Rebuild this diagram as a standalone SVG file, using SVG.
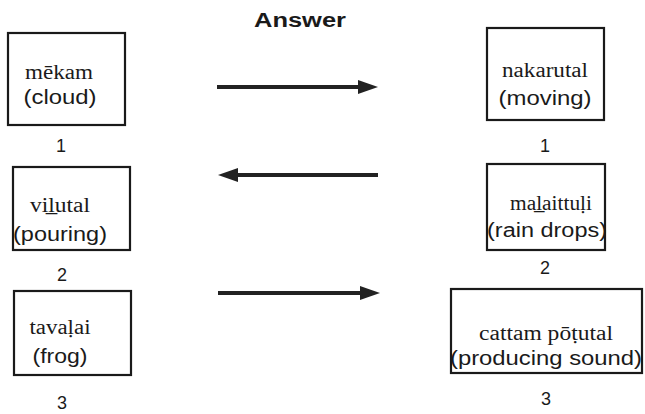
<svg xmlns="http://www.w3.org/2000/svg" width="645" height="414" viewBox="0 0 645 414">
  <style>
    .box { fill: #fff; stroke: #1a1a1a; stroke-width: 2.2; }
    .tm { font-family: "Liberation Serif", "Times New Roman", serif; font-size: 20px; fill: #1a1a1a; text-anchor: middle; }
    .en { font-family: "Liberation Sans", Arial, sans-serif; font-size: 20px; fill: #1a1a1a; text-anchor: middle; }
    .num { font-family: "Liberation Sans", Arial, sans-serif; font-size: 18px; fill: #1a1a1a; text-anchor: middle; }
    .title { font-family: "Liberation Sans", Arial, sans-serif; font-size: 20px; font-weight: bold; fill: #1a1a1a; text-anchor: middle; }
    .arrow { stroke: #222; stroke-width: 4; fill: none; }
  </style>
  <defs>
    <marker id="head" viewBox="0 0 20 14" refX="2" refY="7" markerWidth="20" markerHeight="14" markerUnits="userSpaceOnUse" orient="auto">
      <path d="M0,0 L20,7 L0,14 Z" fill="#222"/>
    </marker>
  </defs>
  <rect width="645" height="414" fill="#fff"/>

  <text class="title" x="300" y="27" textLength="92" lengthAdjust="spacingAndGlyphs">Answer</text>

  <g id="connectors">
    <line class="arrow" x1="217" y1="87" x2="360" y2="87" marker-end="url(#head)"/>
    <line class="arrow" x1="378" y1="175" x2="236" y2="175" marker-end="url(#head)"/>
    <line class="arrow" x1="218" y1="293" x2="362" y2="293" marker-end="url(#head)"/>
  </g>

  <g id="cloud">
    <rect class="box" x="8" y="33" width="117" height="92"/>
    <text class="tm" x="59" y="79" textLength="68" lengthAdjust="spacingAndGlyphs">mēkam</text>
    <text class="en" x="60" y="104" textLength="73" lengthAdjust="spacingAndGlyphs">(cloud)</text>
    <text class="num" x="61" y="152">1</text>
  </g>

  <g id="pouring">
    <rect class="box" x="13" y="167" width="117" height="83"/>
    <text class="tm" x="60" y="212" textLength="60" lengthAdjust="spacingAndGlyphs">vil̲utal</text>
    <text class="en" x="60" y="241" textLength="94" lengthAdjust="spacingAndGlyphs">(pouring)</text>
    <text class="num" x="62" y="281">2</text>
  </g>

  <g id="frog">
    <rect class="box" x="14" y="291" width="117" height="84"/>
    <text class="tm" x="60" y="334" textLength="61" lengthAdjust="spacingAndGlyphs">tavaḷai</text>
    <text class="en" x="60" y="363" textLength="55" lengthAdjust="spacingAndGlyphs">(frog)</text>
    <text class="num" x="62" y="409">3</text>
  </g>

  <g id="moving">
    <rect class="box" x="487" y="28" width="117" height="92"/>
    <text class="tm" x="545" y="77" textLength="86" lengthAdjust="spacingAndGlyphs">nakarutal</text>
    <text class="en" x="545" y="105" textLength="93" lengthAdjust="spacingAndGlyphs">(moving)</text>
    <text class="num" x="545" y="152">1</text>
  </g>

  <g id="rain-drops">
    <rect class="box" x="487" y="164" width="118" height="86"/>
    <text class="tm" x="551" y="210" textLength="82" lengthAdjust="spacingAndGlyphs">mal̲aittuḷi</text>
    <text class="en" x="547" y="237" textLength="120" lengthAdjust="spacingAndGlyphs">(rain drops)</text>
    <text class="num" x="545" y="274">2</text>
  </g>

  <g id="producing-sound">
    <rect class="box" x="451" y="289" width="191" height="84"/>
    <text class="tm" x="546" y="340" textLength="134" lengthAdjust="spacingAndGlyphs">cattam pōṭutal</text>
    <text class="en" x="546" y="365" textLength="192" lengthAdjust="spacingAndGlyphs">(producing sound)</text>
    <text class="num" x="546" y="405">3</text>
  </g>
</svg>
